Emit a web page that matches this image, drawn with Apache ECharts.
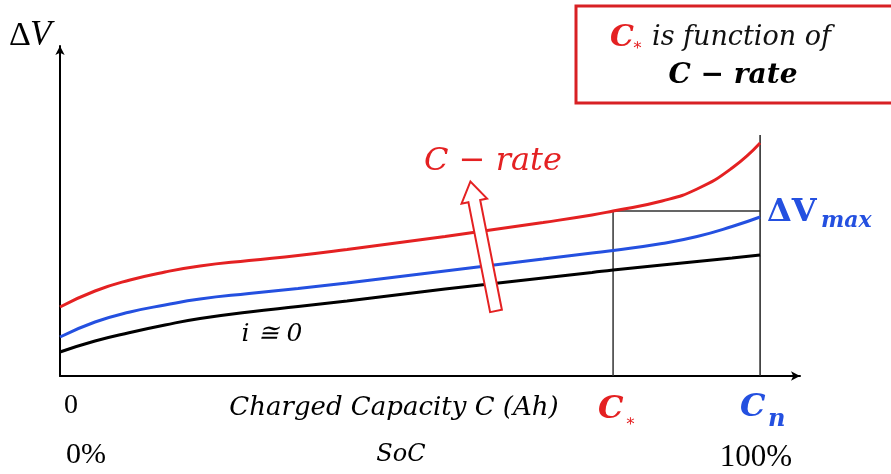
<!DOCTYPE html>
<html><head><meta charset="utf-8">
<script src="https://cdn.jsdelivr.net/npm/echarts@6/dist/echarts.min.js"></script>
<style>html,body{margin:0;padding:0;background:#fff}#c{width:891px;height:474px}</style>
</head><body><div id="c"></div>
<script>
// x: charged capacity as % of Cn ; y: relative ΔV (arbitrary units)
const capacity = [0, 5, 10, 15, 20, 27, 34, 41, 48, 55, 62, 69, 76, 79, 86, 91, 96, 100];
const highRate = [69, 85, 96, 104, 110, 115.5, 120.5, 126.5, 133, 139.5, 146.5, 153.5, 161, 165, 175, 187, 208, 233];
const midRate  = [39, 54, 64, 71, 77, 82.5, 87.5, 93, 99, 105, 111, 117, 123, 125.5, 132.5, 139.5, 149.5, 159];
const zeroRate = [24, 35, 43.5, 51, 57.5, 64, 69.5, 75, 81, 87, 92.5, 98, 103.5, 106, 111, 114.5, 118, 121];
const cStar = 79, cN = 100;
const cnLineTop = 241;

const RED = '#e42122', BLUE = '#2450e0';
const pairs = ys => capacity.map((x, i) => [x, ys[i]]);
const chart = echarts.init(document.getElementById('c'), null, {renderer: 'canvas'});
const serif = 'DejaVu Serif';
const axisCommon = {
  axisLabel: {show: false}, axisTick: {show: false}, splitLine: {show: false},
  axisLine: {show: true, symbol: ['none', 'arrow'], symbolSize: [7, 9], lineStyle: {color: '#000', width: 2}}
};
const cStarLevel = highRate[capacity.indexOf(cStar)];
const curve = (ys, color) => ({type: 'line', data: pairs(ys), smooth: 0.5,
  symbol: 'none', lineStyle: {color: color, width: 3}, z: 2});
chart.setOption({
  animation: false,
  grid: {left: 60, right: 91, top: 46, bottom: 98},
  xAxis: Object.assign({type: 'value', min: 0, max: 105.7}, axisCommon),
  yAxis: Object.assign({type: 'value', min: 0, max: 330}, axisCommon),
  series: [
    {type: 'line', data: [[cStar, 0], [cStar, cStarLevel], [cN, cStarLevel]],
     symbol: 'none', lineStyle: {color: '#333', width: 1.5}, z: 1},
    {type: 'line', data: [[cN, 0], [cN, cnLineTop]], symbol: 'none', lineStyle: {color: '#222', width: 1.5}, z: 1},
    curve(zeroRate, '#000'),
    curve(midRate, BLUE),
    curve(highRate, RED)
  ],
  graphic: [
    // top-right box
    {type: 'rect', shape: {x: 576, y: 6, width: 330, height: 97}, style: {fill: '#fff', stroke: '#d82024', lineWidth: 3}, z: 10},
    {type: 'text', x: 610, y: 38, style: {text: 'C', fill: RED, font: 'italic bold 30px "' + serif + '"', verticalAlign: 'middle'}, z: 11},
    {type: 'text', x: 632, y: 46, style: {text: '∗', fill: RED, font: '16px "' + serif + '"', verticalAlign: 'middle'}, z: 11},
    {type: 'text', x: 652, y: 38, style: {text: 'is function of', fill: '#111', font: 'italic 27px "' + serif + '"', verticalAlign: 'middle'}, z: 11},
    {type: 'text', x: 733, y: 76, style: {text: 'C − rate', fill: '#000', font: 'italic bold 28px "' + serif + '"', align: 'center', verticalAlign: 'middle'}, z: 11},
    // ΔV axis label
    {type: 'text', x: 9, y: 36, style: {text: 'Δ', fill: '#000', font: '34px "Liberation Serif"', verticalAlign: 'middle'}},
    {type: 'text', x: 30, y: 36, style: {text: 'V', fill: '#000', font: 'italic 35px "Liberation Serif"', verticalAlign: 'middle'}},
    // middle C-rate label
    {type: 'text', x: 493, y: 162, style: {text: 'C − rate', fill: RED, font: 'italic 32px "' + serif + '"', align: 'center', verticalAlign: 'middle'}},
    // hollow arrow
    {type: 'polygon', x: 496, y: 311, rotation: 0.195,
     shape: {points: [[-6, 0], [-6, -112], [-13, -112], [0, -132], [13, -112], [6, -112], [6, 0]]},
     style: {fill: '#fff', stroke: RED, lineWidth: 2}, z: 20},
    // i ≅ 0
    {type: 'text', x: 272, y: 334, style: {text: 'i ≅ 0', fill: '#000', font: 'italic 25px "' + serif + '"', align: 'center', verticalAlign: 'middle'}},
    // ΔVmax
    {type: 'text', x: 767, y: 213, style: {text: 'ΔV', fill: BLUE, font: 'bold 32px "' + serif + '"', verticalAlign: 'middle'}},
    {type: 'text', x: 821, y: 221, style: {text: 'max', fill: BLUE, font: 'italic bold 22px "' + serif + '"', verticalAlign: 'middle'}},
    // x axis labels
    {type: 'text', x: 71, y: 406, style: {text: '0', fill: '#000', font: '28px "Liberation Serif"', align: 'center', verticalAlign: 'middle'}},
    {type: 'text', x: 394, y: 408, style: {text: 'Charged Capacity C (Ah)', fill: '#000', font: 'italic 26px "' + serif + '"', align: 'center', verticalAlign: 'middle'}},
    {type: 'text', x: 598, y: 410, style: {text: 'C', fill: RED, font: 'italic bold 32px "' + serif + '"', verticalAlign: 'middle'}},
    {type: 'text', x: 625, y: 422, style: {text: '∗', fill: RED, font: '16px "' + serif + '"', verticalAlign: 'middle'}},
    {type: 'text', x: 740, y: 408, style: {text: 'C', fill: BLUE, font: 'italic bold 32px "' + serif + '"', verticalAlign: 'middle'}},
    {type: 'text', x: 768, y: 420, style: {text: 'n', fill: BLUE, font: 'italic bold 24px "' + serif + '"', verticalAlign: 'middle'}},
    {type: 'text', x: 86, y: 455, style: {text: '0%', fill: '#000', font: '30px "Liberation Serif"', align: 'center', verticalAlign: 'middle'}},
    {type: 'text', x: 401, y: 455, style: {text: 'SoC', fill: '#000', font: 'italic 24px "' + serif + '"', align: 'center', verticalAlign: 'middle'}},
    {type: 'text', x: 756, y: 458, style: {text: '100%', fill: '#000', font: '31px "Liberation Serif"', align: 'center', verticalAlign: 'middle'}}
  ]
});
</script></body></html>
